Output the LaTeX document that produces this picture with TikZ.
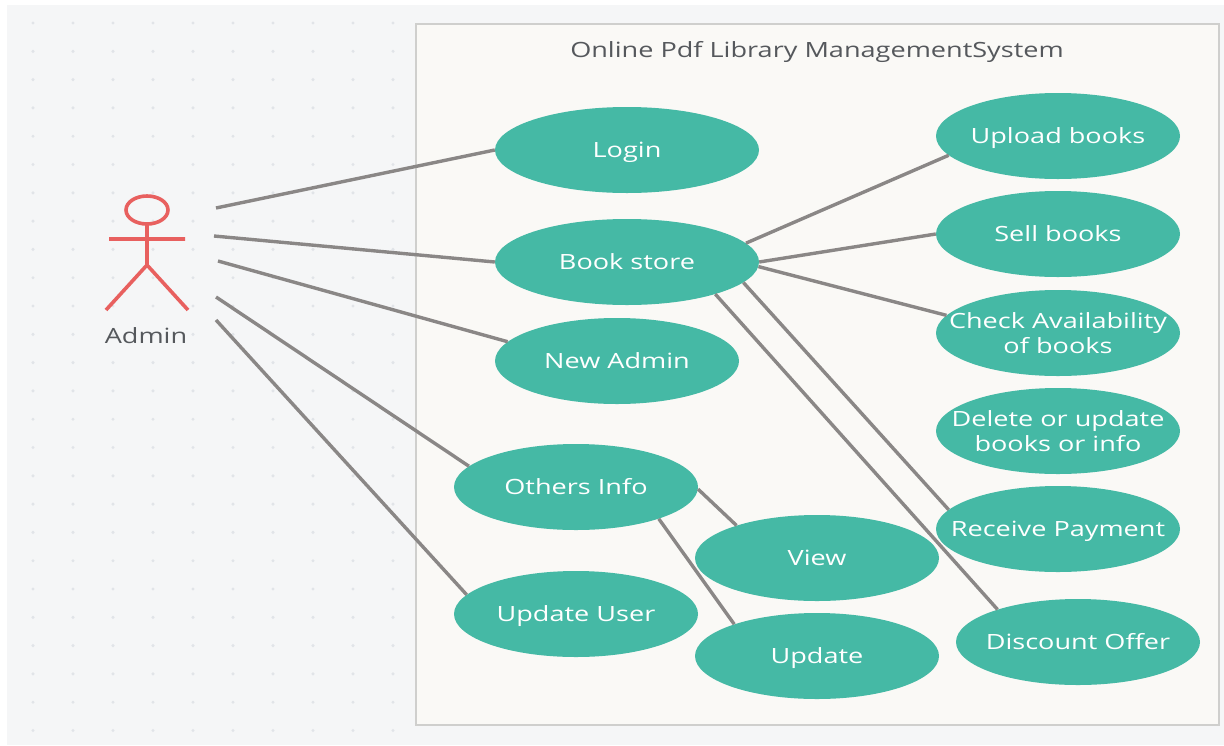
\documentclass[tikz,border=0pt]{standalone}
\usepackage{fontspec}
\setmainfont[FakeStretch=1.29]{Open Sans}
\usetikzlibrary{shapes.geometric}
\definecolor{ucfill}{HTML}{45B9A5}
\definecolor{linkgray}{HTML}{8A8786}
\definecolor{actorred}{HTML}{E8605F}
\definecolor{panelbg}{HTML}{F5F6F7}
\definecolor{sysbg}{HTML}{FAF9F6}
\definecolor{sysedge}{HTML}{CFCFCD}
\definecolor{griddot}{HTML}{E1E4E8}
\definecolor{labelgray}{HTML}{55585C}
\newcommand{\uctext}[1]{\makebox[0pt]{\smash{\raisebox{-8pt}{\begin{tabular}[c]{@{}c@{}}#1\end{tabular}}}}}
\tikzset{
  x=1pt,y=-1pt,
  usecase/.style={ellipse,fill=ucfill,text=white,inner sep=0pt,minimum width=244pt,minimum height=86pt,
    font=\fontsize{21}{25}\selectfont},
  usecasewide/.style={usecase,minimum width=264pt},
  link/.style={draw=linkgray,line width=3.4pt},
  actorline/.style={draw=actorred,line width=3.6pt},
  caption/.style={text=labelgray,font=\fontsize{21}{25}\selectfont,inner sep=0pt}
}
\begin{document}
\begin{tikzpicture}
\useasboundingbox (0,0) rectangle (1224,745);
\fill[white] (0,0) rectangle (1224,745);
\fill[panelbg] (7,5) rectangle (1224,745);
\foreach \i in {0,...,9}{\foreach \j in {0,...,25}{
  \fill[griddot] (33+40*\i,23+28.3*\j) circle (1.7pt);}}
\filldraw[fill=sysbg,draw=sysedge,line width=2pt] (416,24) rectangle (1219,725);
\node[caption] (title) at (817,52) {Online Pdf Library ManagementSystem};
% actor
\draw[actorline] (147,210) ellipse (21pt and 14pt);
\coordinate (neck) at (147,224);
\coordinate (hip) at (147,265);
\coordinate (armL) at (109,239);
\coordinate (armR) at (185,239);
\coordinate (footL) at (106,310);
\coordinate (footR) at (188,310);
\draw[actorline] (neck) -- (hip) (armL) -- (armR) (footL) -- (hip) -- (footR);
\node[caption] (admin) at (146,336) {Admin};
% use cases
\node[usecasewide] (login) at (627,150) {\uctext{Login}};
\node[usecasewide] (store) at (627,262) {\uctext{Book store}};
\node[usecase] (newadmin) at (617,361) {\uctext{New Admin}};
\node[usecase] (others) at (576,487) {\uctext{Others Info}};
\node[usecase] (upduser) at (576,614) {\uctext{Update User}};
\node[usecase] (view) at (817,558) {\uctext{View}};
\node[usecase] (update) at (817,656) {\uctext{Update}};
\node[usecase] (upload) at (1058,136) {\uctext{Upload books}};
\node[usecase] (sell) at (1058,234) {\uctext{Sell books}};
\node[usecase] (check) at (1058,333) {\uctext{Check Availability\\of books}};
\node[usecase] (delete) at (1058,431) {\uctext{Delete or update\\books or info}};
\node[usecase] (receive) at (1058,529) {\uctext{Receive Payment}};
\node[usecase] (discount) at (1078,642) {\uctext{Discount Offer}};
% free ends at the actor
\coordinate (a1) at (216,208);
\coordinate (a2) at (214,236);
\coordinate (a3) at (218,261);
\coordinate (a4) at (216,297);
\coordinate (a5) at (216,320);
\draw[link] (a1) -- (login.west);
\draw[link] (a2) -- (store.west);
\draw[link] (a3) -- (newadmin.170);
\draw[link] (a4) -- (others.169);
\draw[link] (a5) -- (upduser.170);
\draw[link] (store.9) -- (upload.190);
\draw[link] (store.east) -- (sell.west);
\draw[link] (store.-2) -- (check.171);
\draw[link] (store.-10) -- (receive.170);
\draw[link] (store.-20) -- (discount.158);
\draw[link] (others.-1) -- (view.158);
\draw[link] (others.-21) -- (update.159);
\end{tikzpicture}
\end{document}
